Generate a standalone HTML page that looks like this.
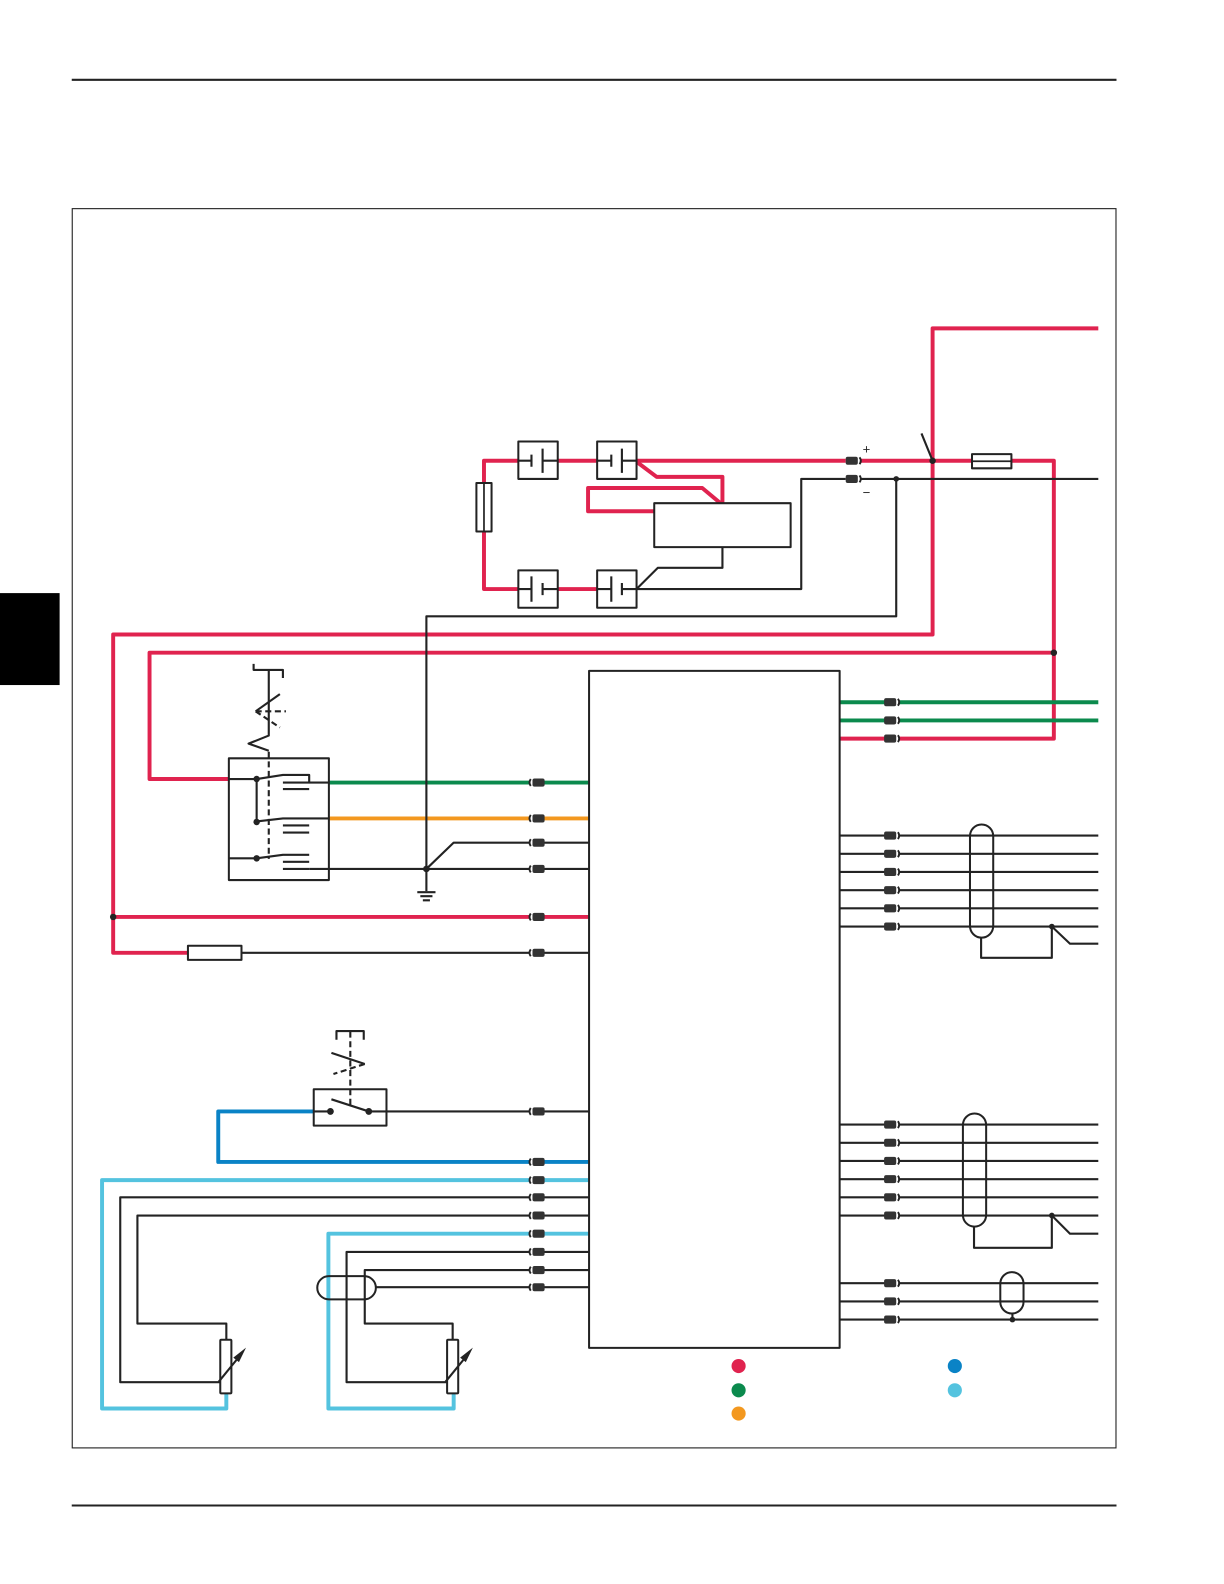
<!DOCTYPE html>
<html>
<head>
<meta charset="utf-8">
<style>
html,body{margin:0;padding:0;background:#fff;}
svg{display:block;}
.k{fill:none;stroke:#232323;stroke-width:2.1;stroke-linejoin:round;}
.b{fill:#fff;stroke:#232323;stroke-width:2;stroke-linejoin:round;}
.nf{fill:none;stroke:#232323;stroke-width:2;stroke-linejoin:round;}
.d{fill:none;stroke:#232323;stroke-width:2.1;stroke-dasharray:6 3.5;}
.r{fill:none;stroke:#e0234f;stroke-width:3.9;stroke-linejoin:round;}
.g{fill:none;stroke:#0b8a4d;stroke-width:3.9;}
.o{fill:none;stroke:#f3981f;stroke-width:3.9;}
.bl{fill:none;stroke:#0a83c6;stroke-width:3.9;stroke-linejoin:round;}
.c{fill:none;stroke:#54c3df;stroke-width:3.9;stroke-linejoin:round;}
</style>
</head>
<body>
<svg xmlns="http://www.w3.org/2000/svg" width="1224" height="1584" viewBox="0 0 1211.4 1567.7">
<defs>
<g id="cr">
<rect x="5" y="-5" width="3.2" height="10" fill="#fff"/>
<rect x="-6" y="-4" width="12" height="8" rx="2" fill="#333"/>
<path d="M7.7 -3.4 Q10.2 0 7.7 3.4" fill="none" stroke="#232323" stroke-width="1.9"/>
</g>
<g id="cl">
<rect x="-8.2" y="-5" width="3.2" height="10" fill="#fff"/>
<rect x="-6" y="-4" width="12" height="8" rx="2" fill="#333"/>
<path d="M-7.7 -3.4 Q-10.2 0 -7.7 3.4" fill="none" stroke="#232323" stroke-width="1.9"/>
</g>
</defs>

<!-- page furniture -->
<rect x="0" y="587" width="59" height="91" fill="#000"/>
<line x1="71" y1="79" x2="1105" y2="79" stroke="#232323" stroke-width="2"/>
<line x1="71" y1="1490" x2="1105" y2="1490" stroke="#232323" stroke-width="2"/>
<rect x="71.5" y="206.5" width="1033" height="1226.5" fill="none" stroke="#232323" stroke-width="1.1"/>

<!-- coloured wires -->
<path class="r" d="M1087 325H923V628H112V943H186"/>
<path class="r" d="M112 907.5H583"/>
<path class="r" d="M227 771H148V646H1043"/>
<path class="r" d="M852 456H962M1001 456H1043V731H831"/>
<path class="r" d="M513 456H479V583H513M552 456H591M552 583H591M630 456H837"/>
<path class="r" d="M630 457L650 472H715V498"/>
<path class="r" d="M713 498L695 483H582V506H647"/>
<path class="g" d="M325 774.5H583"/>
<path class="o" d="M325 810H583"/>
<path class="g" d="M831 695H1087M831 713H1087"/>
<path class="bl" d="M311 1100H216V1150H583"/>
<path class="c" d="M583 1168H101V1394H224V1379"/>
<path class="c" d="M583 1221H325V1394H449V1379"/>

<!-- black wires -->
<path class="k" d="M715 541V562H651L630 583H793V474H837M852 474H1087"/>
<path class="k" d="M887 474V610H422V882"/>
<path class="k" d="M306 860H583M422 860L449 834H583"/>
<path class="k" d="M239 943H583"/>
<path class="k" d="M365 1100H583"/>
<path class="k" d="M583 1185H119V1368H218"/>
<path class="k" d="M583 1203H136V1310H224V1326"/>
<path class="k" d="M583 1239H343V1368H442"/>
<path class="k" d="M583 1257H361V1310H448V1326"/>
<path class="k" d="M372 1274H583"/>
<path class="k" d="M912 429L923 456"/>
<path class="k" d="M831 827H1087M831 845H1087M831 863H1087M831 881H1087M831 899H1087M831 917H1041L1059 934H1087"/>
<path class="k" d="M1041 917H1087"/>
<path class="k" d="M831 1113H1087M831 1131H1087M831 1149H1087M831 1167H1087M831 1185H1087M831 1203H1041L1059 1221H1087"/>
<path class="k" d="M1041 1203H1087"/>
<path class="k" d="M831 1270H1087M831 1288H1087M831 1306H1087"/>

<!-- ground -->
<path class="k" d="M413 883H431M416 887H428M418.5 891H425.5"/>

<!-- batteries -->
<rect class="nf" x="513" y="437" width="39" height="37"/>
<rect class="nf" x="591" y="437" width="39" height="37"/>
<rect class="nf" x="513" y="564.5" width="39" height="37"/>
<rect class="nf" x="591" y="564.5" width="39" height="37"/>
<path class="k" d="M513 456H526M526 450V462M537 444V468M537 456H552"/>
<path class="k" d="M591 456H605M605 450V462M615.5 444V468M615.5 456H630"/>
<path class="k" d="M513 583H526M526 570.5V595.5M537 577V589M537 583H552"/>
<path class="k" d="M591 583H605M605 570.5V595.5M615.5 577V589M615.5 583H630"/>

<!-- module box on batteries -->
<rect class="b" x="647.5" y="498" width="135" height="43.5"/>

<!-- fuses -->
<rect class="b" x="471.5" y="478" width="15" height="48"/>
<line x1="479" y1="478" x2="479" y2="526" stroke="#232323" stroke-width="1.7"/>
<rect class="b" x="962" y="449.5" width="39" height="14"/>
<line x1="962" y1="456.5" x2="1001" y2="456.5" stroke="#232323" stroke-width="1.7"/>
<rect class="b" x="186" y="936" width="53" height="14"/>

<!-- main module -->
<rect class="nf" x="583" y="664" width="248" height="670"/>

<!-- upper switch -->
<rect class="nf" x="226.5" y="750.5" width="99" height="120.5"/>
<path class="k" d="M251 657V663H280V671M266 663V728L246 736L266 743"/>
<path class="k" d="M277 687L253 704"/>
<path class="d" d="M253 704L277 720"/>
<path class="d" d="M253 704H283"/>
<path class="d" d="M266 744V850"/>
<path class="k" d="M227 771H254L280 767H306V774.5H325"/>
<path class="k" d="M254 771V813L280 810H325"/>
<path class="k" d="M227 849.5H254L280 846H306"/>
<path class="k" d="M280 774.5H306M280 781H306M280 817H306M280 824H306M280 853H306M280 860H306"/>
<circle cx="254" cy="771" r="3.2" fill="#232323"/>
<circle cx="254" cy="813.5" r="3.2" fill="#232323"/>
<circle cx="254" cy="849.5" r="3.2" fill="#232323"/>

<!-- lower switch -->
<rect class="nf" x="310.5" y="1078" width="72" height="36"/>
<path class="k" d="M333 1029V1020.5H360V1029"/>
<path class="k" d="M328 1042L361 1053"/>
<path class="d" d="M361 1053L330 1063"/>
<path class="d" d="M346.7 1021V1094"/>
<path class="k" d="M328 1088L365 1100"/>
<path class="k" d="M311 1100H327"/>
<circle cx="327" cy="1100" r="3.4" fill="#232323"/>
<circle cx="365" cy="1100" r="3.4" fill="#232323"/>

<!-- resistors -->
<rect class="b" x="218" y="1326" width="11" height="53" rx="1"/>
<path class="k" d="M216.5 1367.5L234 1346"/>
<path d="M243.5 1333.7L230.9 1343.6L233.2 1345.5L236.5 1348.1Z" fill="#232323"/>
<rect class="b" x="442.5" y="1326" width="11" height="53" rx="1"/>
<path class="k" d="M441 1367.5L458.5 1346"/>
<path d="M468 1333.7L455.4 1343.6L457.7 1345.5L461 1348.1Z" fill="#232323"/>

<!-- twisted / shield ovals -->
<rect class="nf" x="314" y="1263" width="58" height="23" rx="11.5"/>
<rect class="nf" x="960" y="816" width="23" height="112" rx="11.5"/>
<path class="k" d="M971 928V948H1041V917"/>
<rect class="nf" x="953" y="1102" width="23" height="112" rx="11.5"/>
<path class="k" d="M964 1214V1235H1041V1203"/>
<rect class="nf" x="990" y="1259" width="23" height="41" rx="11.5"/>
<path class="k" d="M1002 1300V1306"/>

<!-- dots -->
<circle cx="923" cy="456" r="3.2" fill="#232323"/>
<circle cx="887" cy="474" r="2.8" fill="#232323"/>
<circle cx="1043" cy="646" r="3.2" fill="#232323"/>
<circle cx="112" cy="907.5" r="3.2" fill="#232323"/>
<circle cx="422" cy="860" r="3.3" fill="#232323"/>
<circle cx="1041" cy="917" r="2.8" fill="#232323"/>
<circle cx="1041" cy="1203" r="2.8" fill="#232323"/>
<circle cx="1002" cy="1306" r="2.8" fill="#232323"/>

<!-- connectors -->
<use href="#cr" x="843" y="456"/>
<use href="#cr" x="843" y="474"/>
<use href="#cr" x="881" y="695"/>
<use href="#cr" x="881" y="713"/>
<use href="#cr" x="881" y="731"/>
<use href="#cr" x="881" y="827"/>
<use href="#cr" x="881" y="845"/>
<use href="#cr" x="881" y="863"/>
<use href="#cr" x="881" y="881"/>
<use href="#cr" x="881" y="899"/>
<use href="#cr" x="881" y="917"/>
<use href="#cr" x="881" y="1113"/>
<use href="#cr" x="881" y="1131"/>
<use href="#cr" x="881" y="1149"/>
<use href="#cr" x="881" y="1167"/>
<use href="#cr" x="881" y="1185"/>
<use href="#cr" x="881" y="1203"/>
<use href="#cr" x="881" y="1270"/>
<use href="#cr" x="881" y="1288"/>
<use href="#cr" x="881" y="1306"/>
<use href="#cl" x="533" y="774.5"/>
<use href="#cl" x="533" y="810"/>
<use href="#cl" x="533" y="834"/>
<use href="#cl" x="533" y="860"/>
<use href="#cl" x="533" y="907.5"/>
<use href="#cl" x="533" y="943"/>
<use href="#cl" x="533" y="1100"/>
<use href="#cl" x="533" y="1150"/>
<use href="#cl" x="533" y="1168"/>
<use href="#cl" x="533" y="1185"/>
<use href="#cl" x="533" y="1203"/>
<use href="#cl" x="533" y="1221"/>
<use href="#cl" x="533" y="1239"/>
<use href="#cl" x="533" y="1257"/>
<use href="#cl" x="533" y="1274"/>

<!-- polarity -->
<text x="857.5" y="449" font-family="'Liberation Sans',sans-serif" font-size="13" text-anchor="middle" fill="#232323">+</text>
<text x="857.5" y="492" font-family="'Liberation Sans',sans-serif" font-size="13" text-anchor="middle" fill="#232323">−</text>

<!-- legend -->
<circle cx="731" cy="1352" r="7" fill="#e0234f"/>
<circle cx="731" cy="1376" r="7" fill="#0b8a4d"/>
<circle cx="731" cy="1399" r="7" fill="#f3981f"/>
<circle cx="945" cy="1352" r="7" fill="#0a83c6"/>
<circle cx="945" cy="1376" r="7" fill="#54c3df"/>
</svg>
</body>
</html>
